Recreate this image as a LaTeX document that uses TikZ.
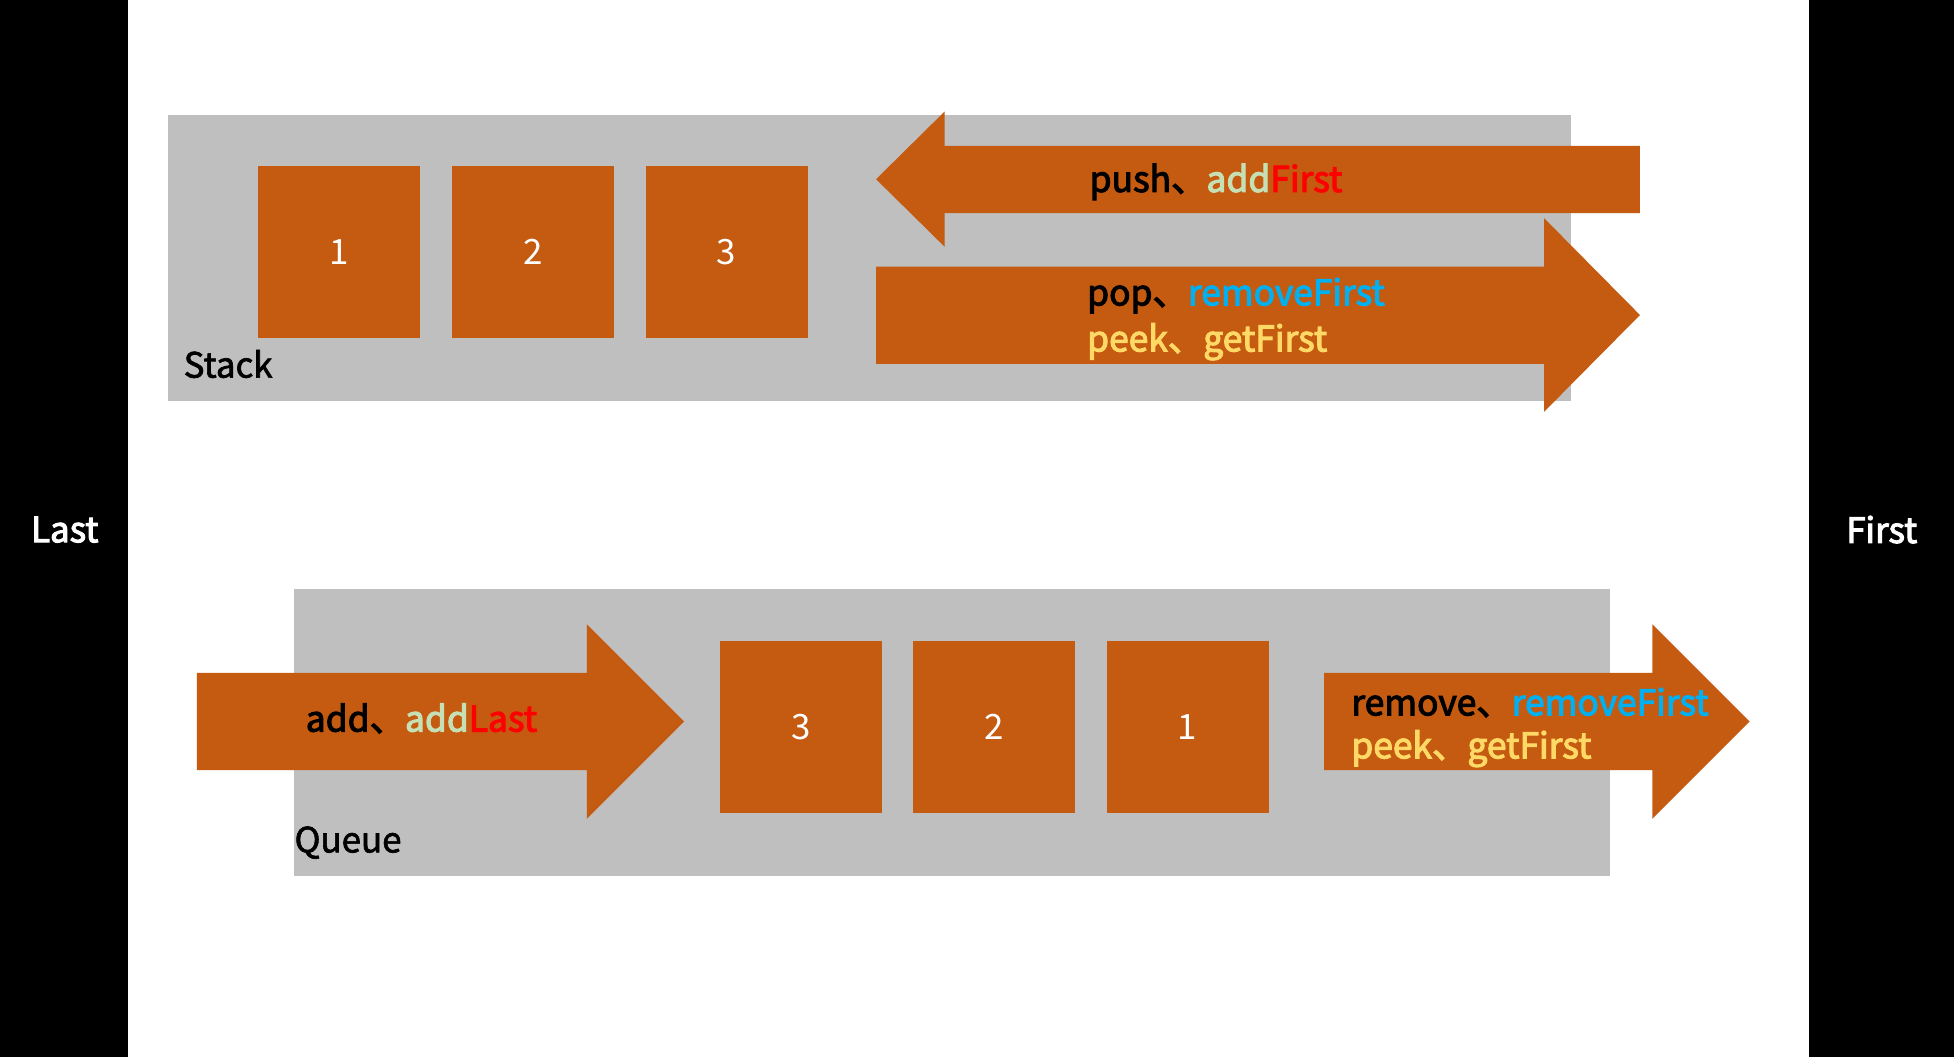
\documentclass[tikz,border=0pt]{standalone}
\usepackage{fontspec}
\setmainfont{Noto Sans CJK SC}
\newfontfamily\semibold{Noto Sans CJK SC}[FakeBold=3]
\newfontfamily\medium{Noto Sans CJK SC}[FakeBold=1.8]
\definecolor{boxor}{HTML}{C55A11}
\definecolor{panelgray}{HTML}{BFBFBF}
\definecolor{lgreen}{HTML}{C5E0B4}
\definecolor{lblue}{HTML}{00B0F0}
\definecolor{lyellow}{HTML}{FFD966}
\definecolor{lred}{HTML}{FF0000}
\begin{document}
\begin{tikzpicture}[x=0.5pt,y=-0.5pt,
  cell/.style={fill=boxor,text=white,minimum width=65pt,minimum height=69pt,inner sep=0pt,font=\fontsize{14}{16}\selectfont},
  side/.style={text=white,inner sep=0pt,font=\fontsize{14}{16}\semibold},
  lbl/.style={anchor=base west,inner sep=0pt,font=\fontsize{14.2}{16}\semibold},
  title/.style={anchor=base west,inner sep=0pt,font=\fontsize{14}{16}\medium},
  arr/.style={fill=boxor},
  panel/.style={fill=panelgray}]
\useasboundingbox (0,0) rectangle (1568,848);
\fill[white] (0,0) rectangle (1568,848);
% side panels
\fill[black] (0,0) rectangle (103,848);
\fill[black] (1452,0) rectangle (1568,848);
\node[side] (last) at (52,425) {Last};
\node[side] (first) at (1510,425) {First};
% Stack
\fill[panel] (135,92) rectangle (1261,322);
\node[cell] (s1) at (272,202) {1};
\node[cell] (s2) at (427.5,202) {2};
\node[cell] (s3) at (583,202) {3};
\node[title] (stack) at (147,303) {Stack};
\fill[arr] (703,143.8) -- (758,89.5) -- (758,117) -- (1316,117) -- (1316,171) -- (758,171) -- (758,198) -- cycle;
\fill[arr] (703,214) -- (1239,214) -- (1239,175) -- (1316,252.8) -- (1239,330.5) -- (1239,292) -- (703,292) -- cycle;
\node[lbl] (push) at (874,154) {push、{\color{lgreen}add}{\color{lred}First}};
\node[lbl] (pop) at (872,245) {pop、{\color{lblue}removeFirst}};
\node[lbl,text=lyellow] (peek1) at (872,282) {peek、getFirst};
% Queue
\fill[panel] (236,473) rectangle (1292,703);
\fill[arr] (158,540) -- (471,540) -- (471,501) -- (549,579) -- (471,657) -- (471,618) -- (158,618) -- cycle;
\fill[arr] (1062.5,540) -- (1326,540) -- (1326,501) -- (1404,579) -- (1326,657) -- (1326,618) -- (1062.5,618) -- cycle;
\node[cell] (q3) at (643,583.5) {3};
\node[cell] (q2) at (798,583.5) {2};
\node[cell] (q1) at (953,583.5) {1};
\node[title] (queue) at (236,684) {Queue};
\node[lbl] (add) at (245,587) {add、{\color{lgreen}add}{\color{lred}Last}};
\node[lbl] (remove) at (1084,574) {remove、{\color{lblue}removeFirst}};
\node[lbl,text=lyellow] (peek2) at (1084,608.5) {peek、getFirst};
\end{tikzpicture}
\end{document}
